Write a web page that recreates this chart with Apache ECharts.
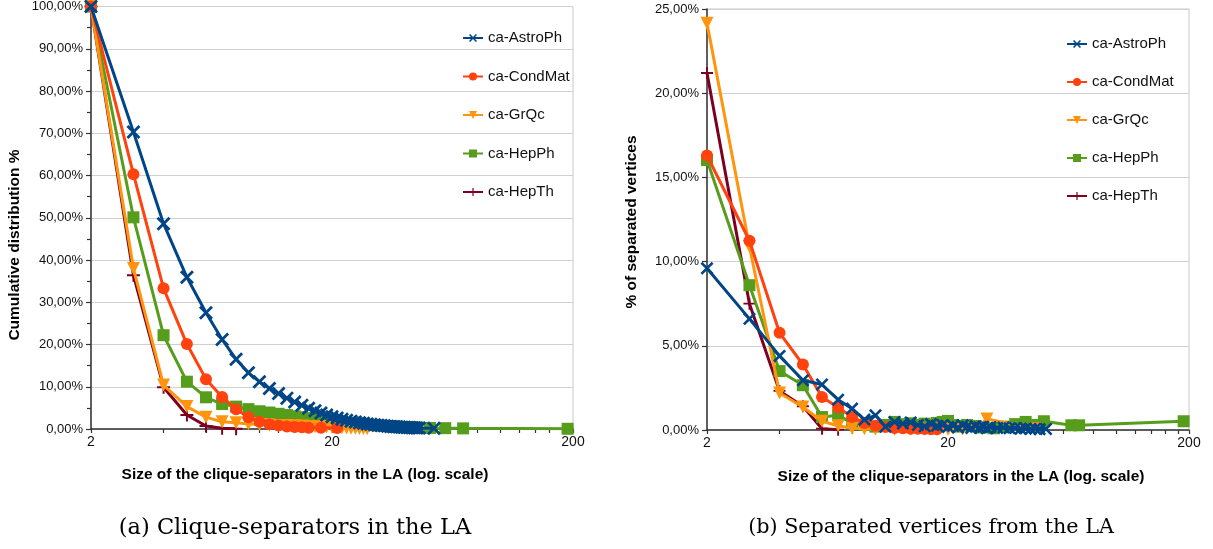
<!DOCTYPE html>
<html>
<head>
<meta charset="utf-8">
<script src="https://cdn.jsdelivr.net/npm/echarts@6/dist/echarts.min.js"></script>
<style>
  html, body { margin: 0; padding: 0; background: #fff; }
  #chart { width: 1213px; height: 549px; }
</style>
</head>
<body>
<div id="chart"></div>
<script>
// ---------- data ----------
const seriesNames = ['ca-AstroPh', 'ca-CondMat', 'ca-GrQc', 'ca-HepPh', 'ca-HepTh'];
const xTickLabels = [2, 20, 200];
const xTickMarks = [2, 4, 6, 8, 10, 12, 14, 16, 18, 20, 40, 60, 80, 100, 120, 140, 160, 180, 200];

// (a) cumulative distribution (%)
const astroX_a = [2,3,4,5,6,7,8,9,10,11,12,13,14,15,16,17,18,19,20,21,22,23,24,25,26,27,28,29,30,31,32,33,34,35,36,37,38,39,40,41,42,43,44,45,46,53];
const astroY_a = [100,70.3,48.6,35.9,27.5,21.2,16.5,13.3,11.2,9.6,8.4,7.3,6.4,5.6,4.9,4.3,3.8,3.3,2.9,2.6,2.3,2.05,1.85,1.65,1.5,1.35,1.2,1.1,1.0,0.9,0.82,0.75,0.68,0.62,0.56,0.51,0.47,0.43,0.39,0.36,0.33,0.3,0.27,0.25,0.22,0.15];
const condX_a = [2,3,4,5,6,7,8,9,10,11,12,13,14,15,16,18,21];
const condY_a = [100,60.3,33.3,20.1,11.8,7.6,4.7,2.8,1.7,1.1,0.8,0.6,0.5,0.4,0.3,0.28,0.22];
const grqcX_a = [2,3,4,5,6,7,8,9,10,11,12,13,14,15,16,17,18,19,20,21,22,23,24,25,26,27,28];
const grqcY_a = [100,38.0,10.4,5.3,2.8,1.7,1.5,1.2,1.05,0.95,0.85,0.8,0.75,0.7,0.62,0.55,0.5,0.45,0.4,0.35,0.3,0.25,0.2,0.17,0.14,0.1,0.05];
const hepphX_a = [2,3,4,5,6,7,8,9,10,11,12,13,14,15,16,17,18,19,20,21,22,23,24,25,26,27,28,29,30,31,32,33,34,35,36,37,38,39,40,41,42,43,44,45,51,59,70,190];
const hepphY_a = [100,50.1,22.2,11.2,7.5,5.9,5.3,4.7,4.2,3.9,3.6,3.3,3.0,2.8,2.6,2.4,2.2,2.0,1.85,1.7,1.55,1.45,1.35,1.25,1.15,1.05,1.0,0.95,0.9,0.85,0.8,0.75,0.7,0.65,0.6,0.56,0.52,0.48,0.45,0.42,0.39,0.36,0.33,0.3,0.25,0.2,0.15,0.05];
const hepthX_a = [2,3,4,5,6,7,8];
const hepthY_a = [100,36.4,9.9,3.3,0.7,0.2,0.05];

// (b) % of separated vertices
const astroX_b = [2,3,4,5,6,7,8,9,10,11,12,13,14,15,16,17,18,19,20,21,22,23,24,25,26,27,28,29,30,32,34,36,38,40,42,44,46,48,51];
const astroY_b = [9.6,6.6,4.4,2.95,2.7,1.8,1.27,0.62,0.87,0.2,0.48,0.38,0.45,0.3,0.22,0.35,0.25,0.3,0.18,0.25,0.15,0.28,0.2,0.12,0.22,0.15,0.2,0.1,0.18,0.12,0.15,0.1,0.12,0.08,0.1,0.06,0.08,0.05,0.06];
const condX_b = [2,3,4,5,6,7,8,9,10,11,12,13,14,15,16,17,18];
const condY_b = [16.3,11.24,5.77,3.89,1.96,1.33,0.77,0.42,0.25,0.18,0.12,0.1,0.08,0.07,0.06,0.05,0.04];
const grqcX_b = [2,3,4,5,6,7,8,9,10,12,14,16,18,20,23,26,29,46];
const grqcY_b = [24.16,10.9,2.2,1.37,0.52,0.25,0.1,0.08,0.06,0.05,0.05,0.04,0.04,0.05,0.05,0.1,0.65,0.08];
const hepphX_b = [2,3,4,5,6,7,8,9,10,11,12,13,14,15,16,17,18,19,20,21,22,23,24,26,28,31,35,38,42,46,50,65,70,190];
const hepphY_b = [16.03,8.6,3.5,2.66,0.77,0.87,0.42,0.3,0.2,0.3,0.48,0.35,0.4,0.3,0.38,0.3,0.42,0.48,0.54,0.3,0.2,0.25,0.3,0.24,0.15,0.1,0.2,0.35,0.48,0.3,0.52,0.28,0.28,0.52];
const hepthX_b = [2,3,4,5,6,7];
const hepthY_b = [21.2,7.5,2.32,1.41,0.08,0.02];

// ---------- styles ----------
const colors = ['#004586', '#ff420e', '#ff950e', '#579d1c', '#7e0021'];
const crossSym = 'path://M0,1.4L1.4,0L5,3.6L8.6,0L10,1.4L6.4,5L10,8.6L8.6,10L5,6.4L1.4,10L0,8.6L3.6,5Z';
const plusSym = 'path://M4.25,0H5.75V4.25H10V5.75H5.75V10H4.25V5.75H0V4.25H4.25Z';
const symbols = [crossSym, 'circle', 'triangle', 'rect', plusSym];
const symRot = [0, 0, 180, 0, 0];
const symSizes = [[14, 12, 13, 12, 13], [13, 12, 13, 12, 12]];
const zs = [6, 5, 4, 3, 2];
const FONT = '"Liberation Sans", Arial, Helvetica, sans-serif';
const SERIF = '"DejaVu Serif", "Liberation Serif", serif';

function zip(xs, ys) { return xs.map((x, i) => [x, ys[i]]); }

const dataA = [zip(astroX_a, astroY_a), zip(condX_a, condY_a), zip(grqcX_a, grqcY_a), zip(hepphX_a, hepphY_a), zip(hepthX_a, hepthY_a)];
const dataB = [zip(astroX_b, astroY_b), zip(condX_b, condY_b), zip(grqcX_b, grqcY_b), zip(hepphX_b, hepphY_b), zip(hepthX_b, hepthY_b)];

const series = [];
[dataA, dataB].forEach((set, g) => {
  set.forEach((d, i) => {
    series.push({
      name: seriesNames[i],
      type: 'line',
      xAxisIndex: g,
      yAxisIndex: g,
      data: d,
      symbol: symbols[i],
      symbolSize: symSizes[g][i],
      symbolRotate: symRot[i],
      showSymbol: true,
      showAllSymbol: true,
      z: zs[i],
      color: colors[i],
      itemStyle: { color: colors[i] },
      lineStyle: { color: colors[i], width: 3 },
      emphasis: { disabled: true }
    });
  });
});

function pctFmt(v) { return v.toFixed(2).replace('.', ',') + '%'; }

function xAxisDef(g) {
  return {
    type: 'log', logBase: 10, gridIndex: g, min: 2, max: 200,
    axisLine: { show: true, onZero: false, lineStyle: { color: '#333', width: 1.5 } },
    axisTick: { show: true, customValues: xTickMarks, length: 4, lineStyle: { color: '#333', width: 1.2 } },
    axisLabel: { customValues: xTickLabels, margin: 6, fontSize: 14, color: '#111', fontFamily: FONT,
                 formatter: v => String(Math.round(v)) },
    splitLine: { show: false },
    minorTick: { show: false }
  };
}

function yAxisDef(g, max, interval, minor) {
  return {
    type: 'value', gridIndex: g, min: 0, max: max, interval: interval,
    axisLine: { show: true, lineStyle: { color: '#333', width: 1.5 } },
    axisTick: { show: true, length: 5, lineStyle: { color: '#333', width: 1.2 } },
    minorTick: { show: minor, splitNumber: 2, length: 4, lineStyle: { color: '#333', width: 1.2 } },
    axisLabel: { margin: 8, fontSize: 13, color: '#111', fontFamily: FONT, formatter: pctFmt },
    splitLine: { show: true, lineStyle: { color: '#d0d0d0', width: 1 } }
  };
}

function legendDef(left, top, gap) {
  return {
    data: seriesNames, orient: 'vertical', left: left, top: top,
    itemGap: gap, itemWidth: 20, itemHeight: 10,
    textStyle: { fontSize: 15, color: '#111', fontFamily: FONT, lineHeight: 16 },
    selectedMode: false
  };
}

function txt(x, y, text, font, rot) {
  return {
    type: 'text', x: x, y: y, rotation: rot || 0, silent: true,
    style: { text: text, font: font, fill: '#000',
             textAlign: 'center', textVerticalAlign: 'middle', align: 'center', verticalAlign: 'middle' }
  };
}

const option = {
  animation: false,
  backgroundColor: '#fff',
  grid: [
    { left: 91, top: 6, width: 482, height: 423, show: true, borderColor: '#c8c8c8', borderWidth: 1, backgroundColor: 'transparent' },
    { left: 707, top: 9, width: 482, height: 421, show: true, borderColor: '#c8c8c8', borderWidth: 1, backgroundColor: 'transparent' }
  ],
  xAxis: [xAxisDef(0), xAxisDef(1)],
  yAxis: [yAxisDef(0, 100, 10, true), yAxisDef(1, 25, 5, false)],
  legend: [legendDef(457, 25, 22.5), legendDef(1061, 31, 22)],
  series: series,
  graphic: [
    txt(15, 245, 'Cumulative distribution %', 'bold 15.5px ' + FONT, Math.PI / 2),
    txt(632, 222, '% of separated vertices', 'bold 15.5px ' + FONT, Math.PI / 2),
    txt(305, 475, 'Size of the clique-separators in the LA (log. scale)', 'bold 15.5px ' + FONT),
    txt(961, 477, 'Size of the clique-separators in the LA (log. scale)', 'bold 15.5px ' + FONT),
    txt(295, 528, '(a) Clique-separators in the LA', '22.5px ' + SERIF),
    txt(931, 528, '(b) Separated vertices from the LA', '20.7px ' + SERIF)
  ]
};

const chart = echarts.init(document.getElementById('chart'), null, { renderer: 'canvas' });
chart.setOption(option);
</script>
</body>
</html>
